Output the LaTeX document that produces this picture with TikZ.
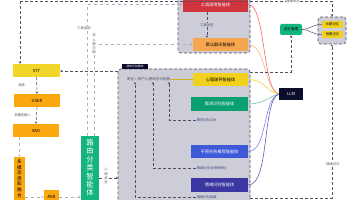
\documentclass[tikz,border=0pt]{standalone}
\usepackage{fontspec}
\setmainfont{Noto Sans CJK SC}
\usetikzlibrary{arrows.meta}
\definecolor{cfill}{RGB}{205,205,215}
\definecolor{dgray}{RGB}{80,80,100}
\definecolor{lgray}{RGB}{175,175,185}
\definecolor{cred}{RGB}{208,52,60}
\definecolor{corl}{RGB}{246,166,79}
\definecolor{cyel}{RGB}{242,208,30}
\definecolor{cgrn}{RGB}{10,159,110}
\definecolor{crgrn}{RGB}{19,181,124}
\definecolor{cblu}{RGB}{62,90,216}
\definecolor{cpur}{RGB}{59,54,162}
\definecolor{corg}{RGB}{251,167,15}
\definecolor{cstt}{RGB}{242,214,42}
\definecolor{cllm}{RGB}{12,12,44}
\begin{document}
\begin{tikzpicture}[x=1pt,y=-1pt,
  box/.style={rectangle, inner sep=0pt, font=\fontsize{4.2}{5}\selectfont},
  wbox/.style={box, text=white},
  cont/.style={rectangle, rounded corners=3pt, draw=dgray, densely dashed, line width=0.6pt, fill=cfill, inner sep=0pt},
  dl/.style={densely dashed, draw=dgray, line width=0.55pt, -{Stealth[length=2.4pt,width=2.4pt]}},
  gl/.style={dashed, draw=lgray, line width=0.8pt, -{Stealth[length=2.4pt,width=2.4pt]}},
  lab/.style={font=\fontsize{3.3}{3.8}\selectfont, text=dgray, inner sep=0.6pt, fill=white},
  clab/.style={font=\fontsize{3.3}{3.8}\selectfont, text=dgray!80!blue, inner sep=0.6pt, fill=cfill},
  crv/.style={line width=0.6pt}]
\useasboundingbox (0,0) rectangle (356,200);
\clip (0,0) rectangle (356,200);
\fill[white] (0,0) rectangle (356,200);

% top dashed line
\coordinate (tl) at (20,1);
\coordinate (tr) at (332,1);
% containers
\node[cont, minimum width=72pt, minimum height=58pt] (topc) at (214,24) {};
\node[cont, minimum width=132pt, minimum height=136pt] (perc) at (184,137) {};
\node[box, fill=cllm, text=white, minimum width=26pt, minimum height=5pt, font=\fontsize{2.8}{3}\selectfont] (tag) at (135,66.5) {感知识别模块};

% agents
\node[wbox, fill=cred, minimum width=65pt, minimum height=15pt] (red) at (215.5,4.5) {工具调用智能体};
\node[box, fill=corl, minimum width=55pt, minimum height=13pt] (def) at (220.5,44.5) {默认聊天智能体};
\node[box, fill=cyel, minimum width=55pt, minimum height=13pt] (yel) at (220.5,79.5) {心理疏导智能体};
\node[wbox, fill=cgrn, minimum width=57pt, minimum height=14pt] (grn) at (219.5,104) {需求识别智能体};
\node[wbox, fill=cblu, minimum width=57pt, minimum height=13pt] (blu) at (219.5,151.5) {干预任务推荐智能体};
\node[wbox, fill=cpur, minimum width=57pt, minimum height=14pt] (pur) at (219.5,185) {情绪识别智能体};

% left column
\node[box, fill=cstt, minimum width=47pt, minimum height=13pt] (stt) at (36.5,70.5) {STT};
\node[box, fill=corg, minimum width=46pt, minimum height=13pt] (usr) at (37,100.5) {USER};
\node[box, fill=corg, minimum width=46pt, minimum height=13pt] (vad) at (36,130.5) {VAD};
\node[box, fill=corg, minimum width=11pt, minimum height=52pt] (mm) at (19.5,183) {};
\node[anchor=north, inner sep=0pt, align=center, font=\fontsize{4.6}{5.6}\selectfont] at (19.5,159.5) {多\\模\\态\\感\\知\\融\\合};
\node[box, fill=corg, minimum width=15pt, minimum height=14pt] (asr) at (51.5,197) {ASR};
\node[box, fill=crgrn, minimum width=18pt, minimum height=74pt] (route) at (90,173) {};
\node[anchor=north, inner sep=0pt, align=center, text=white, font=\fontsize{7.4}{8.4}\selectfont] at (90,139) {路\\由\\分\\类\\智\\能\\体};

% right side
\node[wbox, fill=cllm, minimum width=24pt, minimum height=12pt] (llm) at (291,94) {LLM};
\node[box, fill=crgrn, rounded corners=2pt, minimum width=22pt, minimum height=11pt, font=\fontsize{3.6}{4}\selectfont] (mgr) at (291,29.5) {记忆管理};
\node[cont, minimum width=28pt, minimum height=27pt] (mem) at (332,30.5) {};
\node[box, fill=cyel, rounded corners=1pt, minimum width=21pt, minimum height=7pt, font=\fontsize{3.3}{4}\selectfont] (long) at (332.5,24.5) {长期记忆};
\node[box, fill=cyel, rounded corners=1pt, minimum width=21pt, minimum height=7pt, font=\fontsize{3.3}{4}\selectfont] (short) at (332.5,34.5) {短期记忆};

% text in perception container
\node[font=\fontsize{3.6}{4}\selectfont, text=dgray, inner sep=0.5pt] (st) at (148.5,79.5) {安全 > 用户心理状态识别器};
\draw[cyel!85!black, line width=0.6pt] (st.east) -- (yel.west);
\node[clab, anchor=west] (t1) at (196,120) {需求识别文本};
\node[clab, anchor=west] (t2) at (196,168) {情绪与任务关联特征};
\node[clab, anchor=west] (t3) at (196,197.5) {情绪识别结果};
\draw[dl] (t1.west) -| ([xshift=20.5pt]st.south);
\draw[dl] (t2.west) -| ([xshift=4.5pt]st.south);
\draw[dl] (t3.west) -| ([xshift=-13.5pt]st.south);

% curves to LLM
\draw[crv, draw=red!60] (red.east) .. controls (266,5) and (262,90) .. (llm.west);
\draw[crv, draw=corl!80] (def.east) .. controls (266,44) and (264,90) .. (llm.west);
\draw[crv, draw=cyel!90] (yel.east) .. controls (266,80) and (266,92) .. (llm.west);
\draw[crv, draw=cgrn!60] (grn.east) .. controls (264,104) and (270,96) .. (llm.west);
\draw[crv, draw=cblu!70] (blu.east) .. controls (268,151) and (262,100) .. (llm.west);
\draw[crv, draw=cpur!80] (pur.east) .. controls (270,185) and (262,100) .. (llm.west);

% memory links
\draw[dgray, line width=0.5pt] (mgr.east) .. controls (309,29.5) and (312,24.5) .. (long.west);
\draw[dgray, line width=0.5pt] (mgr.east) .. controls (309,29.5) and (312,34.5) .. (short.west);

% dashed connectors
\draw[dl] (tl) -- (tl |- stt.north);
\draw[dl] (tl) -- (tr) -- (mem.north);
\node[lab] at (293,1.5) {情绪状态};
\coordinate (pl) at (118,71);
\draw[dl] (pl) -- (pl -| stt.east);
\draw[dl] (stt) -- node[lab, pos=0.5, xshift=-15pt] {语音} (usr);
\draw[dl] (usr.south) -- node[lab, pos=0.5, xshift=-14pt] {多模态输入} (vad.north);
\draw[gl] (vad.south -| mm.north) -- (mm.north);
\draw[gl] (mm.east |- asr.west) -- (asr.west);
\draw[gl] (asr.east) -- (asr.east -| route.west);
\draw[gl] ([xshift=-3pt]route.north) |- (red.west);
\draw[gl] ([xshift=4pt]route.north) |- (def.west);
\node[lab] at (84,28) {工具调用};
\node[lab, align=center, font=\fontsize{3.3}{4.2}\selectfont] at (94,44) {非\\心\\理\\问\\题};
\coordinate (pin) at (118,178);
\draw[dl] (pin -| route.east) -- (pin);
\node[lab, align=center, font=\fontsize{3.3}{4.2}\selectfont] at (106,176) {心\\理\\状\\态};
\draw[dl] (red.south -| 207,0) -- node[clab] {工具状态} (def.north -| 207,0);
\coordinate (pr) at (250,72);
\draw[dl] (pr) -| (mgr.south);
\coordinate (pb) at (250,198);
\draw[dl] (pb) -| (mem.south);
\node[lab] at (333,164) {情绪记忆};
\end{tikzpicture}
\end{document}
